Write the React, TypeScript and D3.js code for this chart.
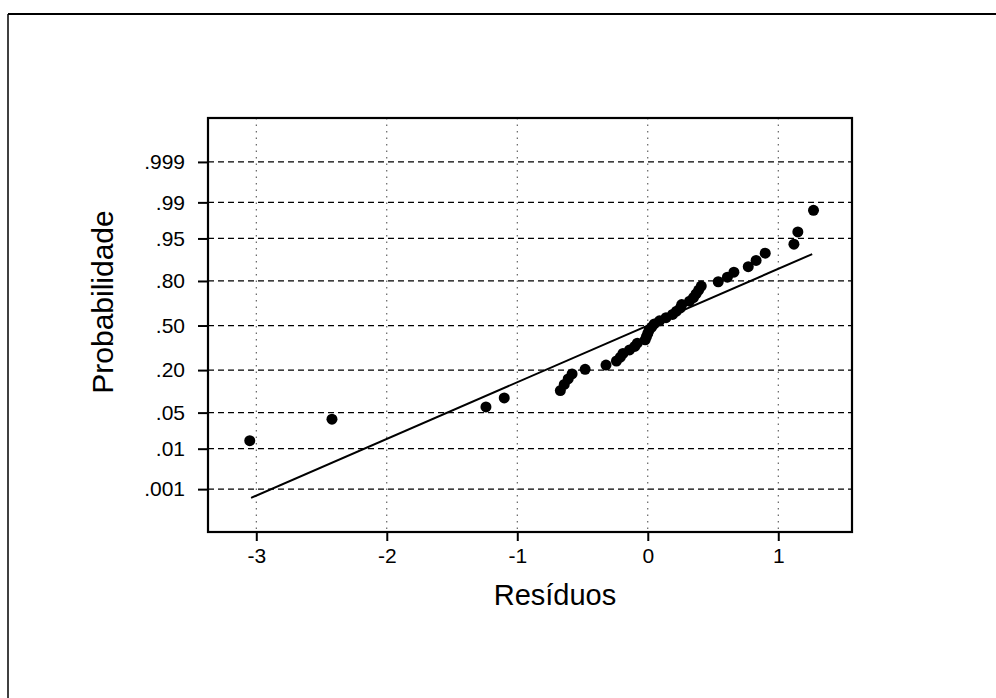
import React, { useEffect, useRef } from "react";
import * as d3 from "d3";

// residuals (sorted) and their plotted cumulative probabilities
const residuos = [
  -3.05, -2.42, -1.24, -1.1, -0.67, -0.64, -0.61, -0.58, -0.48, -0.32, -0.24, -0.21, -0.19, -0.14,
  -0.1, -0.08, -0.02, -0.01, 0.0, 0.01, 0.03, 0.05, 0.09, 0.14, 0.19, 0.22, 0.25, 0.26, 0.32, 0.35,
  0.37, 0.39, 0.41, 0.54, 0.61, 0.66, 0.77, 0.83, 0.9, 1.12, 1.15, 1.27,
];
const probabilidades = [
  0.0148, 0.0385, 0.0621, 0.0858, 0.1095, 0.1331, 0.1568, 0.1805, 0.2041, 0.2278, 0.2515, 0.2751,
  0.2988, 0.3225, 0.3462, 0.3698, 0.3935, 0.4172, 0.4408, 0.4645, 0.4882, 0.5118, 0.5355, 0.5592,
  0.5828, 0.6065, 0.6302, 0.6538, 0.6775, 0.7012, 0.7249, 0.7485, 0.7722, 0.7959, 0.8195, 0.8432,
  0.8669, 0.8905, 0.9142, 0.9379, 0.9615, 0.9852,
];

const probTicks = [0.001, 0.01, 0.05, 0.2, 0.5, 0.8, 0.95, 0.99, 0.999];
const probLabels = [".001", ".01", ".05", ".20", ".50", ".80", ".95", ".99", ".999"];
const residTicks = [-3, -2, -1, 0, 1];

// fitted normal line
const fitMean = 0;
const fitSd = 0.934;
const fitRange = [-3.04, 1.26];

// inverse normal cdf (Acklam)
function probit(p: number) {
  const a = [-39.69683028665376, 220.9460984245205, -275.9285104469687, 138.357751867269, -30.66479806614716, 2.506628277459239];
  const b = [-54.47609879822406, 161.5858368580409, -155.6989798598866, 66.80131188771972, -13.28068155288572];
  const c = [-0.007784894002430293, -0.3223964580411365, -2.400758277161838, -2.549732539343734, 4.374664141464968, 2.938163982698783];
  const d = [0.007784695709041462, 0.3224671290700398, 2.445134137142996, 3.754408661907416];
  const pl = 0.02425;
  if (p < pl) {
    const q = Math.sqrt(-2 * Math.log(p));
    return (((((c[0] * q + c[1]) * q + c[2]) * q + c[3]) * q + c[4]) * q + c[5]) /
      ((((d[0] * q + d[1]) * q + d[2]) * q + d[3]) * q + 1);
  }
  if (p > 1 - pl) {
    const q = Math.sqrt(-2 * Math.log(1 - p));
    return -(((((c[0] * q + c[1]) * q + c[2]) * q + c[3]) * q + c[4]) * q + c[5]) /
      ((((d[0] * q + d[1]) * q + d[2]) * q + d[3]) * q + 1);
  }
  const q = p - 0.5;
  const r = q * q;
  return (((((a[0] * r + a[1]) * r + a[2]) * r + a[3]) * r + a[4]) * r + a[5]) * q /
    (((((b[0] * r + b[1]) * r + b[2]) * r + b[3]) * r + b[4]) * r + 1);
}

const App = () => {
  const ref = useRef<SVGSVGElement>(null);

  useEffect(() => {
    const w = 996;
    const h = 698;
    const left = 208, right = 852, top = 118, bottom = 532;
    const font = "Arial, 'Liberation Sans', sans-serif";

    const svg = d3.select(ref.current).attr("width", w).attr("height", h);
    svg.selectAll("*").remove();

    // outer frame (only top and left edges show)
    svg.append("line").attr("x1", 8).attr("x2", w).attr("y1", 14).attr("y2", 14)
      .attr("stroke", "#000").attr("stroke-width", 2);
    svg.append("line").attr("x1", 8).attr("x2", 8).attr("y1", 14).attr("y2", h)
      .attr("stroke", "#000").attr("stroke-width", 1.5);

    const x = d3.scaleLinear().domain([-3.37, 1.565]).range([left, right]);
    const y = d3.scaleLinear().domain([-3.9, 3.92]).range([bottom, top]);

    // grid
    svg.append("g").selectAll("line").data(probTicks).join("line")
      .attr("x1", left).attr("x2", right)
      .attr("y1", (p) => y(probit(p))).attr("y2", (p) => y(probit(p)))
      .attr("stroke", "#000").attr("stroke-width", 1.2).attr("stroke-dasharray", "6,4");
    svg.append("g").selectAll("line").data(residTicks).join("line")
      .attr("x1", (v) => x(v)).attr("x2", (v) => x(v))
      .attr("y1", top).attr("y2", bottom)
      .attr("stroke", "#444").attr("stroke-width", 1).attr("stroke-dasharray", "1.5,5");

    // axes
    const xAxis = d3.axisBottom(x).tickValues(residTicks).tickSize(9).tickPadding(7)
      .tickFormat((d) => String(d));
    const gx = svg.append("g").attr("transform", `translate(0, ${bottom})`).call(xAxis);
    gx.select(".domain").remove();
    gx.selectAll("line").attr("stroke", "#000").attr("stroke-width", 2);
    gx.selectAll("text").attr("font-family", font).attr("font-size", 21).attr("fill", "#000");

    const yAxis = d3.axisLeft(y).tickValues(probTicks.map(probit)).tickSize(10).tickPadding(13)
      .tickFormat((d, i) => probLabels[i]);
    const gy = svg.append("g").attr("transform", `translate(${left}, 0)`).call(yAxis);
    gy.select(".domain").remove();
    gy.selectAll("line").attr("stroke", "#000").attr("stroke-width", 2);
    gy.selectAll("text").attr("font-family", font).attr("font-size", 21).attr("fill", "#000");

    // plot frame
    svg.append("rect").attr("x", left).attr("y", top)
      .attr("width", right - left).attr("height", bottom - top)
      .attr("fill", "none").attr("stroke", "#000").attr("stroke-width", 2.2);

    // fitted line
    const line = d3.line<number>().x((v) => x(v)).y((v) => y((v - fitMean) / fitSd));
    svg.append("path").attr("d", line(fitRange)).attr("fill", "none")
      .attr("stroke", "#000").attr("stroke-width", 2);

    // points
    svg.append("g").selectAll("circle").data(residuos).join("circle")
      .attr("cx", (v) => x(v))
      .attr("cy", (v, i) => y(probit(probabilidades[i])))
      .attr("r", 5.5).attr("fill", "#000");

    // titles
    svg.append("text").attr("x", 555).attr("y", 605).attr("text-anchor", "middle")
      .attr("font-family", font).attr("font-size", 29).text("Resíduos");
    svg.append("text").attr("transform", "translate(113, 302) rotate(-90)")
      .attr("text-anchor", "middle").attr("font-family", font).attr("font-size", 30)
      .text("Probabilidade");
  }, []);

  return (
    <div style={{ position: "absolute", left: 0, top: 0 }}>
      <svg ref={ref} style={{ display: "block", background: "#fff" }}></svg>
    </div>
  );
};

export default App;
